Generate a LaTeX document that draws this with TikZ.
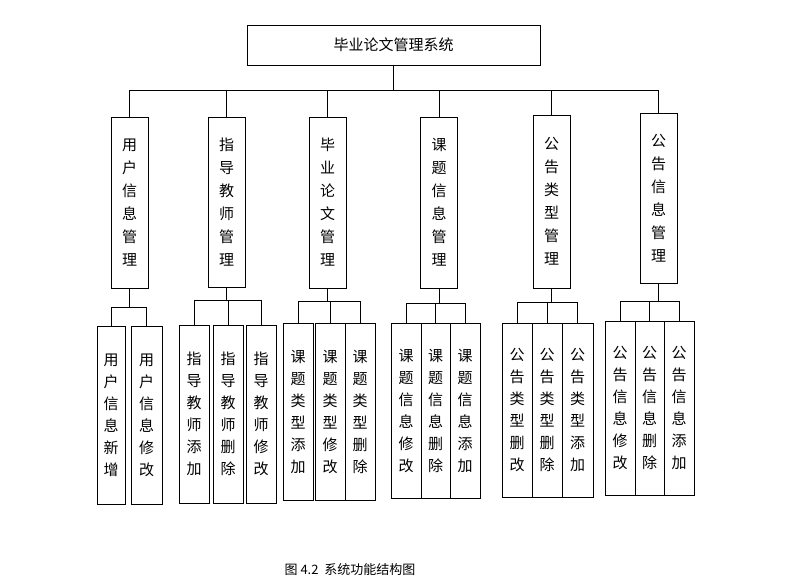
\documentclass[tikz,border=0pt]{standalone}
\usepackage{fontspec}
\setmainfont{Noto Sans CJK SC}
\tikzset{
  box/.style={draw, thick, inner sep=0pt, align=center, font=\fontsize{15}{23}\selectfont},
  sub/.style={box, font=\fontsize{15}{22}\selectfont},
}
\begin{document}
\begin{tikzpicture}[x=1pt, y=-1pt]
  \useasboundingbox (0,0) rectangle (794,583);

  % Top box
  \node[box, minimum width=293pt, minimum height=40pt] (top) at (393.5,45) {毕业论文管理系统};
  \coordinate (bus) at (0,90);
  \draw[thick] (top.south) -- (top.south |- bus);

  % Second level
  \foreach \name/\x/\ya/\yb/\txt in {
      m1/129.5/117/288/{用\\户\\信\\息\\管\\理},
      m2/226.5/117/287/{指\\导\\教\\师\\管\\理},
      m3/327.5/117/288/{毕\\业\\论\\文\\管\\理},
      m4/439/117/288/{课\\题\\信\\息\\管\\理},
      m5/551.5/115/288/{公\\告\\类\\型\\管\\理},
      m6/658.5/113/283/{公\\告\\信\\息\\管\\理}} {
    \node[box, minimum width=37pt, minimum height={\yb-\ya}, text width=37pt]
      (\name) at (\x,{(\ya+\yb)/2}) {\txt};
    \draw[thick] (\name.north) -- (\name.north |- bus);
  }
  \draw[thick] (m1.north |- bus) -- (m6.north |- bus);

  % Third level
  \foreach \g/\nn/\yh/\ya/\yb/\items in {
      m1/2/307/326/504/{111/28/{用\\户\\信\\息\\新\\增}, 146.5/31/{用\\户\\信\\息\\修\\改}},
      m2/3/300/325/503/{194/30/{指\\导\\教\\师\\添\\加}, 228/30/{指\\导\\教\\师\\删\\除}, 261/30/{指\\导\\教\\师\\修\\改}},
      m3/3/301/323/500/{298/30/{课\\题\\类\\型\\添\\加}, 330/30/{课\\题\\类\\型\\修\\改}, 360/30/{课\\题\\类\\型\\删\\除}},
      m4/3/303/323/498/{406/30/{课\\题\\信\\息\\修\\改}, 435.5/29/{课\\题\\信\\息\\删\\除}, 465/30/{课\\题\\信\\息\\添\\加}},
      m5/3/302/323/497/{517/30/{公\\告\\类\\型\\删\\改}, 547/30/{公\\告\\类\\型\\删\\除}, 577.5/31/{公\\告\\类\\型\\添\\加}},
      m6/3/301/321/495/{620/30/{公\\告\\信\\息\\修\\改}, 649.5/29/{公\\告\\信\\息\\删\\除}, 679/30/{公\\告\\信\\息\\添\\加}}} {
    \coordinate (\g-bar) at (0,\yh);
    \draw[thick] (\g.south) -- (\g.south |- \g-bar);
    \foreach \x/\w/\txt [count=\k] in \items {
      \node[sub, minimum width=\w, minimum height={\yb-\ya}, text width=\w]
        (\g-\k) at (\x,{(\ya+\yb)/2}) {\txt};
      \draw[thick] (\g-\k.north) -- (\g-\k.north |- \g-bar);
    }
    \draw[thick] (\g-1.north |- \g-bar) -- (\g-\nn.north |- \g-bar);
  }

  % Caption
  \node[font=\fontsize{13}{15}\selectfont] (cap) at (350,570) {图 4.2\ \ 系统功能结构图};
\end{tikzpicture}
\end{document}
